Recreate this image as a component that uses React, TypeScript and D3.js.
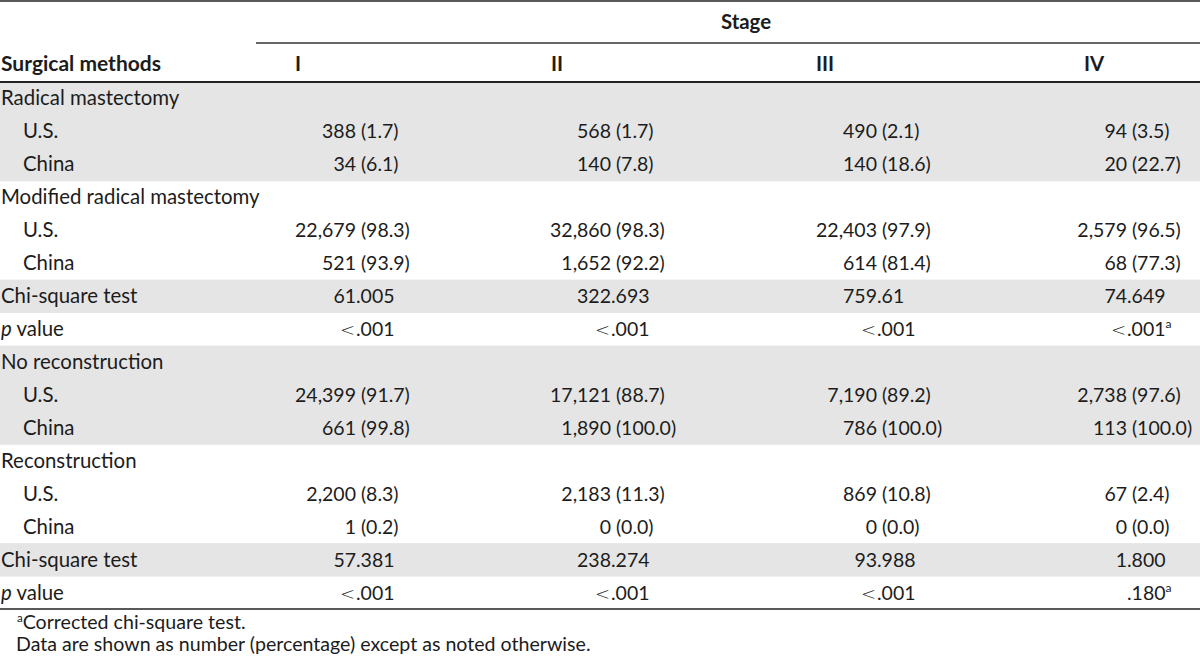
import React from "react";
import * as d3 from "d3";

// ---------- data ----------
const stageTitle = "Stage";
const stages = ["I", "II", "III", "IV"];
const rowHeaderTitle = "Surgical methods";

const rowLabels = [
  "Radical mastectomy", "U.S.", "China",
  "Modified radical mastectomy", "U.S.", "China",
  "Chi-square test", "p value",
  "No reconstruction", "U.S.", "China",
  "Reconstruction", "U.S.", "China",
  "Chi-square test", "p value",
];
const rowIndent = [0, 1, 1, 0, 1, 1, 0, 0, 0, 1, 1, 0, 1, 1, 0, 0];
const rowShaded = [1, 1, 1, 0, 0, 0, 1, 0, 1, 1, 1, 0, 0, 0, 1, 0];

const radicalUS = ["388 (1.7)", "568 (1.7)", "490 (2.1)", "94 (3.5)"];
const radicalChina = ["34 (6.1)", "140 (7.8)", "140 (18.6)", "20 (22.7)"];
const modifiedUS = ["22,679 (98.3)", "32,860 (98.3)", "22,403 (97.9)", "2,579 (96.5)"];
const modifiedChina = ["521 (93.9)", "1,652 (92.2)", "614 (81.4)", "68 (77.3)"];
const chiSurgery = ["61.005", "322.693", "759.61", "74.649"];
const pSurgery = ["<.001", "<.001", "<.001", "<.001^a"];
const noReconUS = ["24,399 (91.7)", "17,121 (88.7)", "7,190 (89.2)", "2,738 (97.6)"];
const noReconChina = ["661 (99.8)", "1,890 (100.0)", "786 (100.0)", "113 (100.0)"];
const reconUS = ["2,200 (8.3)", "2,183 (11.3)", "869 (10.8)", "67 (2.4)"];
const reconChina = ["1 (0.2)", "0 (0.0)", "0 (0.0)", "0 (0.0)"];
const chiRecon = ["57.381", "238.274", "93.988", "1.800"];
const pRecon = ["<.001", "<.001", "<.001", ".180^a"];

const cellRows: (string[] | null)[] = [
  null, radicalUS, radicalChina,
  null, modifiedUS, modifiedChina,
  chiSurgery, pSurgery,
  null, noReconUS, noReconChina,
  null, reconUS, reconChina,
  chiRecon, pRecon,
];

const footnotes = ["^aCorrected chi-square test.", "Data are shown as number (percentage) except as noted otherwise."];

// ---------- layout ----------
const W = 1200;
const H = 656;
const FONT = "Lato, 'Open Sans', sans-serif";
const FS = 19.5;
const FS_LABEL = 20.4;
const FS_NOTE = 19.6;
const headerLineY = 82;
const bottomLineY = 609;
const colAnchors = [356, 611, 877, 1127];
const colHeaderX = [295, 551, 816, 1084];

function splitCell(s: string): [string, string, string] {
  let sup = "";
  let t = s;
  const k = t.indexOf("^");
  if (k >= 0) {
    sup = t.slice(k + 1);
    t = t.slice(0, k);
  }
  const sp = t.indexOf(" ");
  if (sp >= 0) return [t.slice(0, sp), t.slice(sp + 1), sup];
  const dot = t.indexOf(".");
  if (dot >= 0) return [t.slice(0, dot), t.slice(dot), sup];
  return [t, "", sup];
}

export default function App() {
  const y = d3.scaleLinear().domain([0, rowLabels.length]).range([headerLineY, bottomLineY]);
  const rowH = y(1) - y(0);
  const x = d3.scaleOrdinal<string, number>().domain(stages).range(colAnchors);
  const xh = d3.scaleOrdinal<string, number>().domain(stages).range(colHeaderX);
  const ink = "#1c1c1c";

  return (
    <svg width={W} height={H} style={{ position: "absolute", left: 0, top: 0, background: "#fff" }} fontFamily={FONT} fontSize={FS} fill={ink}>
      <rect x={0} y={0} width={W} height={H} fill="#fff" />
      {rowShaded.map((s, i) =>
        s ? <rect key={"bg" + i} x={0} y={y(i)} width={W} height={rowH + 0.5} fill="#e5e5e5" /> : null
      )}
      {/* rules */}
      <line x1={0} x2={W} y1={1} y2={1} stroke="#222" strokeWidth={1.6} />
      <line x1={256} x2={W} y1={43} y2={43} stroke="#333" strokeWidth={1.3} />
      <line x1={0} x2={W} y1={headerLineY} y2={headerLineY} stroke="#222" strokeWidth={1.8} />
      <line x1={0} x2={W} y1={bottomLineY} y2={bottomLineY} stroke="#222" strokeWidth={1.6} />

      {/* headers */}
      <text x={746} y={29} textAnchor="middle" fontWeight={700} fontSize={FS_LABEL}>{stageTitle}</text>
      <text x={1} y={71} fontWeight={700} fontSize={FS_LABEL + 0.6}>{rowHeaderTitle}</text>
      {stages.map((s) => (
        <text key={"h" + s} x={xh(s)} y={71} fontWeight={700} fontSize={FS_LABEL}>{s}</text>
      ))}

      {/* row labels */}
      {rowLabels.map((lab, i) => {
        const by = y(i) + rowH / 2 + 7;
        const lx = rowIndent[i] ? 23 : 1;
        if (lab.startsWith("p value")) {
          return (
            <text key={"l" + i} x={lx} y={by} fontSize={FS_LABEL}>
              <tspan fontStyle="italic">p</tspan>
              <tspan>{" value"}</tspan>
            </text>
          );
        }
        return <text key={"l" + i} x={lx} y={by} fontSize={FS_LABEL}>{lab}</text>;
      })}

      {/* cells */}
      {cellRows.map((row, i) =>
        row
          ? row.map((v, j) => {
              const [left, right, sup] = splitCell(v);
              const ax = x(stages[j]);
              const by = y(i) + rowH / 2 + 7;
              const isCount = v.indexOf(" ") >= 0;
              const lt = left === "<";
              return (
                <g key={"c" + i + "-" + j}>
                  {lt ? (
                    <text x={ax - 1} y={by} textAnchor="end" fontFamily="'DejaVu Sans'" fontWeight={200} fontSize={18}>{"<"}</text>
                  ) : (
                    <text x={ax} y={by} textAnchor="end">{left}</text>
                  )}
                  <text x={ax + (isCount ? FS * 0.25 : 0)} y={by}>
                    {right}
                    {sup ? <tspan fontSize={12} dy={-8}>{sup}</tspan> : null}
                  </text>
                </g>
              );
            })
          : null
      )}

      {/* footnotes */}
      {footnotes.map((f, i) => {
        const by = 629 + i * 22;
        if (f.startsWith("^")) {
          return (
            <text key={"f" + i} x={17} y={by} fontSize={FS_NOTE}>
              <tspan fontSize={11.5} dy={-7}>{f.slice(1, 2)}</tspan>
              <tspan dy={7}>{f.slice(2)}</tspan>
            </text>
          );
        }
        return <text key={"f" + i} x={16} y={by} fontSize={FS_NOTE}>{f}</text>;
      })}
    </svg>
  );
}
